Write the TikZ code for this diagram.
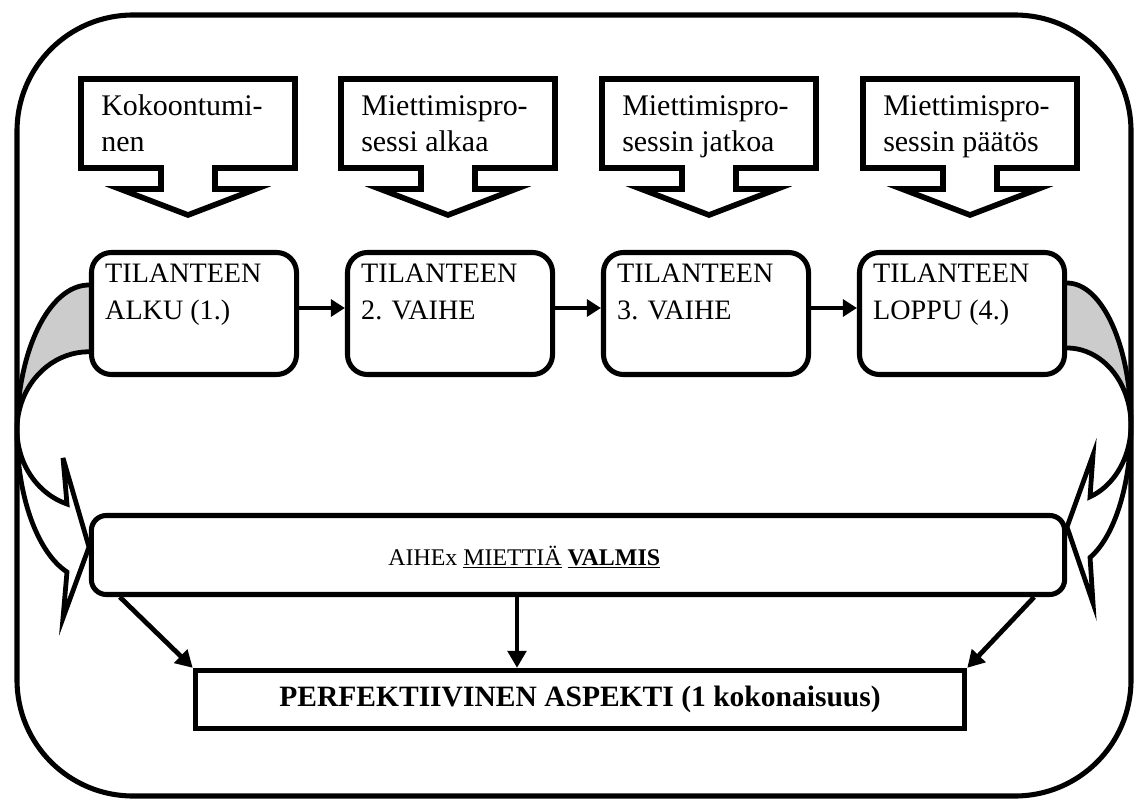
\documentclass[tikz,border=0pt]{standalone}
\usepackage{fontspec}
\setmainfont{Liberation Serif}
\usetikzlibrary{arrows.meta,calc}
\newcommand\mycallout[3]{%
  \draw[calloutshape] (#1-107,79) -- (#1+107,79) -- (#1+107,168) -- (#1+27,168) -- (#1+27,189)
    -- (#1+68,189) -- (#1,215) -- (#1-68,189) -- (#1-27,189) -- (#1-27,168) -- (#1-107,168) -- cycle;
  \node[calltext] (#2) at (#1-87,116) {\begin{tabular}[t]{@{}l@{}}#3\end{tabular}};
}
\begin{document}
\begin{tikzpicture}[x=0.025cm,y=-0.025cm,
  frame/.style={draw, line width=3.6pt},
  calloutshape/.style={draw, line width=4pt, fill=white, line join=miter},
  calltext/.style={anchor=base west, inner sep=0pt, font=\fontsize{21.3}{24.9}\selectfont},
  stagebox/.style={draw, line width=3.6pt, rounded corners=0.5cm, fill=white,
    minimum width=5.125cm, minimum height=3.05cm, inner sep=0pt},
  stagetext/.style={anchor=base west, inner sep=0pt, font=\fontsize{20}{26.3}\selectfont},
  curvedarrow/.style={draw, line width=3.4pt, line join=miter},
  bandfill/.style={fill=black!20},
  arr/.style={line width=3pt, -{Triangle[length=10pt,width=12pt]}},
  bigarr/.style={line width=3.4pt, -{Triangle[length=12pt,width=13pt]}}
]
\useasboundingbox (0,0) rectangle (1135,800);

% outer frame
\draw[frame, rounded corners=2.9cm] (17,15) rectangle (1131,796);

% callouts
\mycallout{188}{c1}{Kokoontumi-\\nen}
\mycallout{448}{c2}{Miettimispro-\\sessi alkaa}
\mycallout{709}{c3}{Miettimispro-\\sessin jatkoa}
\mycallout{970}{c4}{Miettimispro-\\sessin päätös}

% left curved arrow
\fill[white] (89,285) arc[start angle=270, end angle=107.8, x radius=72, y radius=147]
  -- (63,618) -- (89,547) -- (63,458) -- (67,504)
  arc[start angle=107.8, end angle=270, x radius=72, y radius=78] -- cycle;
\fill[bandfill] (89,285) arc[start angle=270, end angle=180, x radius=72, y radius=147]
  -- (17,429.7) arc[start angle=180, end angle=270, x radius=72, y radius=78] -- cycle;
\draw[curvedarrow] (89,285) arc[start angle=270, end angle=107.8, x radius=72, y radius=147]
  -- (63,618) -- (89,547) -- (63,458) -- (67,504)
  arc[start angle=107.8, end angle=270, x radius=72, y radius=78];

% right curved arrow
\fill[white] (1067,283) arc[start angle=-90, end angle=68.9, x radius=64, y radius=142]
  -- (1093,603) -- (1067,527) -- (1093,455) -- (1090,496.8)
  arc[start angle=68.9, end angle=-90, x radius=64, y radius=77] -- cycle;
\fill[bandfill] (1067,283) arc[start angle=-90, end angle=0, x radius=64, y radius=142]
  -- (1131,425) arc[start angle=0, end angle=-90, x radius=64, y radius=77] -- cycle;
\draw[curvedarrow] (1067,283) arc[start angle=-90, end angle=68.9, x radius=64, y radius=142]
  -- (1093,603) -- (1067,527) -- (1093,455) -- (1090,496.8)
  arc[start angle=68.9, end angle=-90, x radius=64, y radius=77];

% stage boxes
\node[stagebox] (b1) at (194,313.5) {};
\node[stagebox] (b2) at (450,313.5) {};
\node[stagebox] (b3) at (706,313.5) {};
\node[stagebox] (b4) at (962,313.5) {};
\node[stagetext] (s1) at ($(b1.north west)+(16,33)$) {\begin{tabular}[t]{@{}l@{}}TILANTEEN\\ALKU (1.)\end{tabular}};
\node[stagetext] (s2) at ($(b2.north west)+(16,33)$) {\begin{tabular}[t]{@{}l@{}}TILANTEEN\\2. VAIHE\end{tabular}};
\node[stagetext] (s3) at ($(b3.north west)+(16,33)$) {\begin{tabular}[t]{@{}l@{}}TILANTEEN\\3. VAIHE\end{tabular}};
\node[stagetext] (s4) at ($(b4.north west)+(16,33)$) {\begin{tabular}[t]{@{}l@{}}TILANTEEN\\LOPPU (4.)\end{tabular}};

\draw[arr] ($(b1.east)+(0,-5.5)$) -- ($(b2.west)+(0,-5.5)$);
\draw[arr] ($(b2.east)+(0,-5.5)$) -- ($(b3.west)+(0,-5.5)$);
\draw[arr] ($(b3.east)+(0,-5.5)$) -- ($(b4.west)+(0,-5.5)$);

% lower box
\node[draw, line width=3.6pt, rounded corners=0.375cm, fill=white,
  minimum width=24.325cm, minimum height=1.975cm, inner sep=0pt] (L) at (578,555) {};
\node[anchor=base west, inner sep=0pt, font=\fontsize{17}{20}\selectfont] (aihe) at (388,565)
  {AIHEx \underline{MIETTIÄ} \underline{\textbf{VALMIS}}};

% result box
\node[draw, line width=3.8pt, fill=white, minimum width=19.225cm, minimum height=1.45cm,
  inner sep=0pt, font=\bfseries\fontsize{21}{25}\selectfont] (P) at (580,699.5)
  {PERFEKTIIVINEN ASPEKTI (1 kokonaisuus)};

\coordinate (m) at (517,0);
\draw[bigarr] ($(L.south west)+(31,0)$) -- (P.north west);
\draw[bigarr] (L.south -| m) -- (P.north -| m);
\draw[bigarr] ($(L.south east)+(-33,0)$) -- (P.north east);
\end{tikzpicture}
\end{document}
